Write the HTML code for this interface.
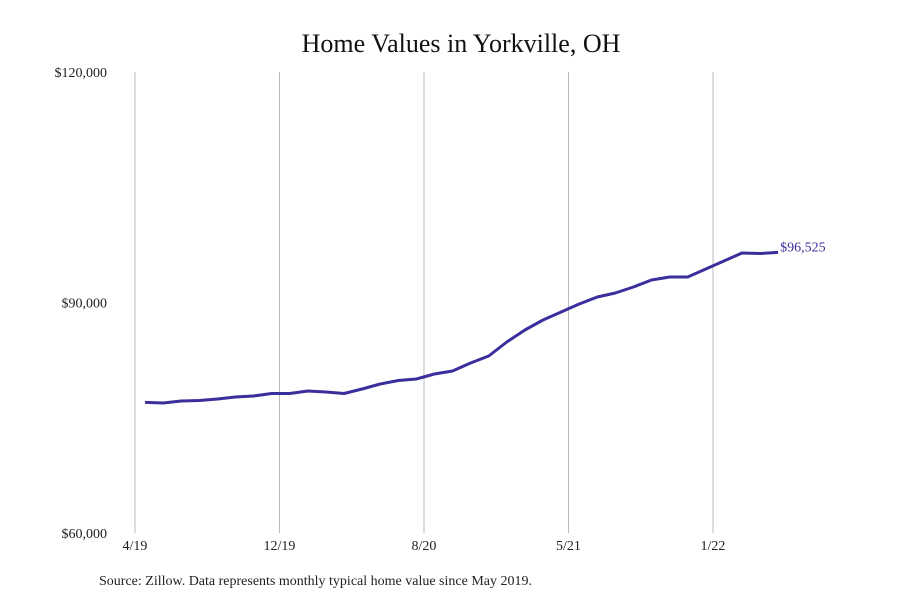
<!DOCTYPE html>
<html><head><meta charset="utf-8"><style>
body{margin:0;background:#fff;}
svg{display:block;font-family:"Liberation Serif",serif;}
</style></head><body>
<svg id="chart" width="900" height="600">
<text x="461" y="52" text-anchor="middle" font-size="26" fill="#111">Home Values in Yorkville, OH</text>
<g id="grid"></g><g id="yticks"></g><g id="xticks"></g>
<path id="line" fill="none" stroke="#3a2f9c" stroke-width="3" stroke-linejoin="round"></path>
<text id="endlabel" font-size="14" fill="#3a2f9c"></text>
<text x="99" y="585" font-size="14" fill="#222">Source: Zillow. Data represents monthly typical home value since May 2019.</text>
</svg>
<script>
const values=[77000,76920,77180,77250,77440,77700,77830,78150,78150,78480,78350,78150,78150,78740,79390,79850,80040,80690,81080,82120,83040,84860,86420,87720,88760,89800,90710,91230,92020,92930,93320,93320,94360,95400,96440,96380,96525];
values.splice(12,1);
const yTicks=[60000,90000,120000];
const yTickLabels=["$60,000","$90,000","$120,000"];
const xTickLabels=["4/19","12/19","8/20","5/21","1/22"];
const endLabel="$96,525";
const NS="http://www.w3.org/2000/svg";
const gridX=i=>135+i*144.5;
const X=i=>145+i*18.09;
const Y=v=>533-(v-60000)*(533-72)/60000;
const g=document.getElementById('grid'),yt=document.getElementById('yticks'),xt=document.getElementById('xticks');
xTickLabels.forEach((lab,i)=>{
 const l=document.createElementNS(NS,'line');
 l.setAttribute('x1',gridX(i));l.setAttribute('x2',gridX(i));l.setAttribute('y1',72);l.setAttribute('y2',533);
 l.setAttribute('stroke','#bbb');l.setAttribute('stroke-width','1');
 
 
 g.appendChild(l);
 const t=document.createElementNS(NS,'text');
 t.setAttribute('x',gridX(i));t.setAttribute('y',550);t.setAttribute('text-anchor','middle');t.setAttribute('font-size','14');t.setAttribute('fill','#222');
 t.textContent=lab;
 
 
 xt.appendChild(t);
});
yTicks.forEach((v,i)=>{
 const t=document.createElementNS(NS,'text');
 t.setAttribute('x',107);t.setAttribute('y',Y(v)+5);t.setAttribute('text-anchor','end');t.setAttribute('font-size','14');t.setAttribute('fill','#222');
 t.textContent=yTickLabels[i];
 
 
 yt.appendChild(t);
});
let d='';
values.forEach((v,i)=>{d+=(i?'L':'M')+X(i).toFixed(1)+','+Y(v).toFixed(1);});
document.getElementById('line').setAttribute('d',d);
const last=values.length-1;
const el=document.getElementById('endlabel');
el.setAttribute('x',X(last)+2);el.setAttribute('y',Y(values[last])-1);
el.textContent=endLabel;
</script>
</body></html>
